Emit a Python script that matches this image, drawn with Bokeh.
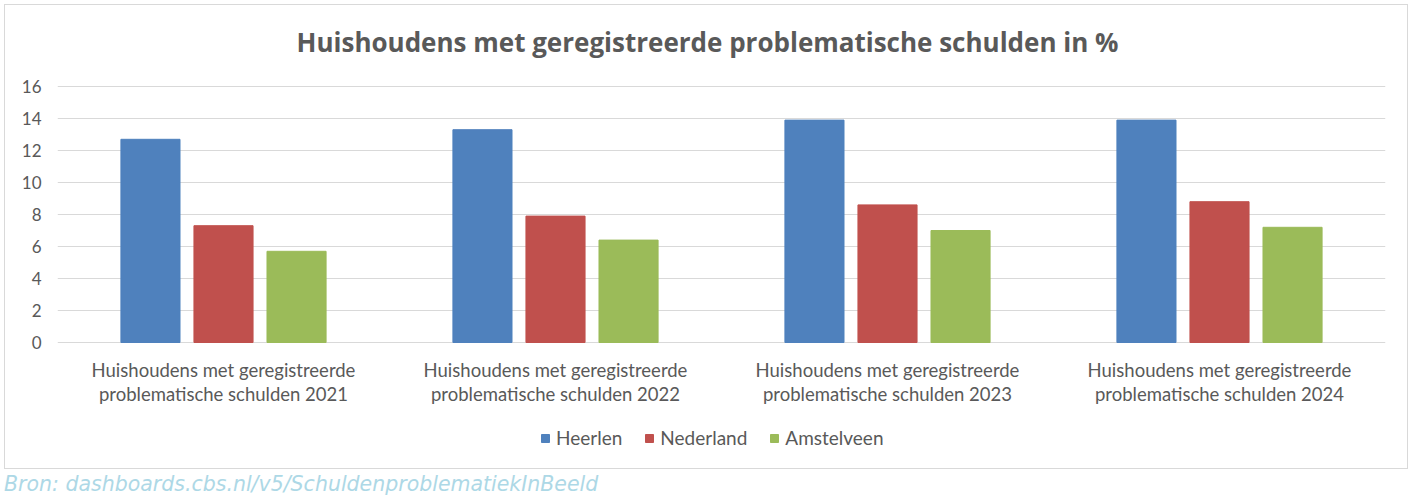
from bokeh.plotting import figure
from bokeh.layouts import column
from bokeh.models import (FactorRange, Range1d, Legend, LegendItem, Label, LabelSet, Div,
                          ColumnDataSource, FixedTicker)
from bokeh.core.properties import value
from bokeh.transform import dodge
from bokeh.embed import file_html
from bokeh.resources import INLINE

years = ["2021", "2022", "2023", "2024"]
label_line1 = ["Huishoudens met geregistreerde"] * 4
label_line2 = [
    "problematische schulden 2021",
    "problematische schulden 2022",
    "problematische schulden 2023",
    "problematische schulden 2024",
]
heerlen = [12.7, 13.3, 13.9, 13.9]
nederland = [7.3, 7.9, 8.6, 8.8]
amstelveen = [5.7, 6.4, 7.0, 7.2]
series_names = ["Heerlen", "Nederland", "Amstelveen"]
y_ticks = [0, 2, 4, 6, 8, 10, 12, 14, 16]
title_text = "Huishoudens met geregistreerde problematische schulden in %"
source_text = "Bron: dashboards.cbs.nl/v5/SchuldenproblematiekInBeeld"

colors = ["#4F81BD", "#C0504D", "#9BBB59"]
FONT = "Lato"
TXT = "#595959"

# canvas 1404x465 sits inside a 1px border at page (4,4); frame spans full canvas height
W, H = 1404, 465
FL, FR = 52, 1380
Y0, Y1 = -8.0, 21.0625   # 16 px per unit, 0 at page y=342

src = ColumnDataSource(dict(year=years, line1=label_line1, line2=label_line2,
                            Heerlen=heerlen, Nederland=nederland, Amstelveen=amstelveen))

p = figure(
    x_range=FactorRange(*years), y_range=Range1d(Y0, Y1),
    width=W, height=H, output_backend="svg", toolbar_location=None, title=None,
    x_axis_location=None,
    min_border_left=FL, min_border_right=W - FR, min_border_top=0, min_border_bottom=0,
    background_fill_color="white", border_fill_color="white",
)
p.outline_line_color = None
p.margin = (4, 0, 0, 4)
p.styles = {"border": "1px solid #D9D9D9"}

offsets = [-0.22, 0.0, 0.22]
renderers = []
for name, off, col in zip(series_names, offsets, colors):
    r = p.vbar(x=dodge("year", off, range=p.x_range), top=name, width=0.178, source=src,
               fill_color=col, line_color=col)
    renderers.append(r)

p.xgrid.grid_line_color = None
p.xgrid.visible = False
p.ygrid.grid_line_color = "#D9D9D9"
p.ygrid.grid_line_width = 1
p.yaxis.ticker = FixedTicker(ticks=y_ticks)
p.ygrid.ticker = FixedTicker(ticks=y_ticks)
p.yaxis.axis_line_color = None
p.yaxis.major_tick_line_color = None
p.yaxis.minor_tick_line_color = None
p.yaxis.major_tick_out = 0
p.yaxis.major_tick_in = 0
p.yaxis.major_label_text_font = FONT
p.yaxis.major_label_text_font_size = "17px"
p.yaxis.major_label_text_color = TXT
p.yaxis.major_label_standoff = 16

# category labels (two lines) under each group
for field, yv in (("line1", -1.6875), ("line2", -3.2)):
    p.add_layout(LabelSet(x="year", y=yv, text=field, source=src,
                          text_font=value(FONT), text_font_size="18.5px", text_color=TXT,
                          text_align="center", text_baseline="middle"))

legend = Legend(
    items=[LegendItem(label=n, renderers=[r]) for n, r in zip(series_names, renderers)],
    orientation="horizontal", location=(483, 21),
    border_line_color=None, background_fill_alpha=0,
    label_text_font=FONT, label_text_font_size="19px", label_text_color=TXT,
    glyph_width=10, glyph_height=10, label_height=20, spacing=22, label_standoff=6,
    margin=0, padding=10,
)
p.add_layout(legend, "center")

p.add_layout(Label(x=650, y=H - 36, x_units="screen", y_units="screen", text=title_text,
                   text_font="Open Sans", text_font_style="bold", text_font_size="26px",
                   text_color=TXT, text_align="center", text_baseline="middle"))

source_div = Div(text=source_text, width=1000, height=31, margin=(0, 0, 0, 4),
                 styles={"font-family": "DejaVu Sans", "font-style": "italic", "font-size": "20.5px",
                         "color": "#ADD8E6", "line-height": "31px", "white-space": "nowrap"})

layout = column(p, source_div)
open("out.html", "w").write(file_html(layout, INLINE))
